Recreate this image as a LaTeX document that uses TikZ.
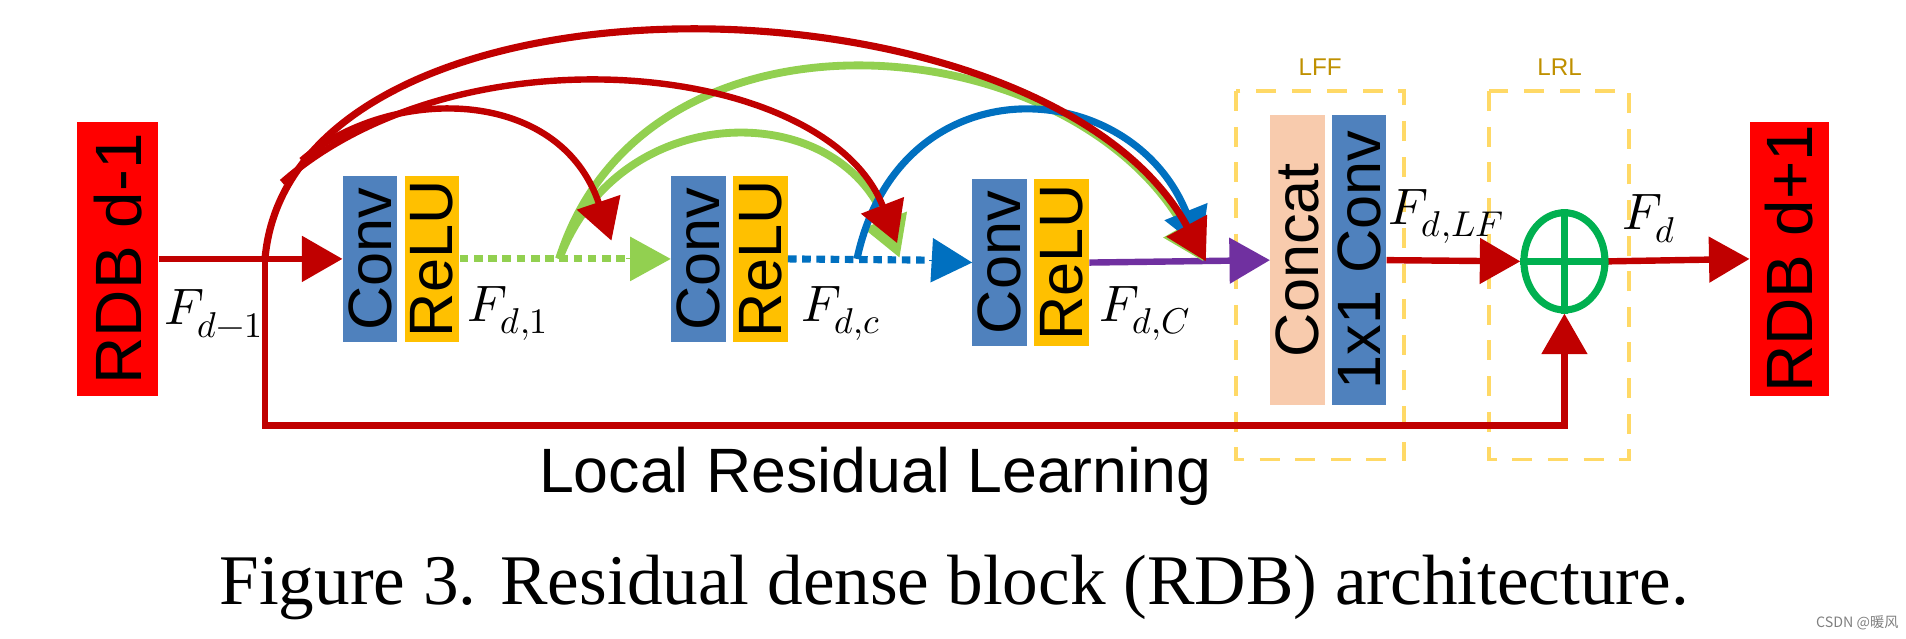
\documentclass[tikz,border=0pt]{standalone}
\usepackage{fontspec}
\usepackage{unicode-math}
\setmathfont{Latin Modern Math}
\setmainfont{Liberation Serif}
\setsansfont{Liberation Sans}
\newfontfamily\cjk{Noto Sans CJK SC}
\usetikzlibrary{arrows.meta,shapes.geometric}
\definecolor{dred}{RGB}{192,0,0}
\definecolor{bred}{RGB}{255,0,0}
\definecolor{cblue}{RGB}{79,129,189}
\definecolor{cyel}{RGB}{255,192,0}
\definecolor{cgreen}{RGB}{146,208,80}
\definecolor{cblue2}{RGB}{0,112,192}
\definecolor{cpurp}{RGB}{112,48,160}
\definecolor{cpeach}{RGB}{248,203,173}
\definecolor{cgold}{RGB}{191,144,0}
\definecolor{cdash}{RGB}{255,217,102}
\definecolor{csum}{RGB}{0,176,80}
\tikzset{
 blk/.style={draw=none,minimum height=1.35cm,inner sep=0pt,font=\sffamily\fontsize{43}{43}\selectfont,rotate=90},
 rdb/.style={fill=bred,minimum height=2.0cm,minimum width=6.75cm,inner sep=0pt,rotate=90,font=\sffamily\fontsize{46}{46}\selectfont},
 tip/.style={-{Triangle[length=1.0cm,width=1.1cm]}},
 lbl/.style={font=\fontsize{36}{36}\selectfont,inner sep=0pt},
 frame/.style={draw=cdash,line width=2.5pt,dash pattern=on 14pt off 11pt},
}
\begin{document}
\begin{tikzpicture}[x=0.03cm,y=-0.03cm]
\useasboundingbox (0,0) rectangle (1568,525);
% RDB boxes
\node[rdb] (rin) at (97,213) {RDB d-1};
\node[rdb,minimum height=1.95cm] (rout) at (1472,213) {RDB d+1};
% conv blocks
\node[blk,fill=cblue,minimum width=4.1cm] (c1) at (304.5,213) {Conv};
\node[blk,fill=cyel,minimum width=4.1cm] (r1) at (355.5,213) {ReLU};
\node[blk,fill=cblue,minimum width=4.1cm] (c2) at (574.5,213) {Conv};
\node[blk,fill=cyel,minimum width=4.1cm] (r2) at (625.5,213) {ReLU};
\node[blk,fill=cblue,minimum width=4.1cm] (c3) at (822.5,216) {Conv};
\node[blk,fill=cyel,minimum width=4.1cm] (r3) at (873.5,216) {ReLU};
\node[blk,fill=cpeach,minimum width=7.15cm] (cc) at (1067.5,214) {Concat};
\node[blk,fill=cblue,minimum width=7.15cm] (cv) at (1118,214) {1x1 Conv};
% frames
\draw[frame] (1017,75) rectangle (1155,378);
\draw[frame] (1225,75) rectangle (1340,378);
\node[font=\sffamily\fontsize{17}{17}\selectfont,text=cgold] (lff) at (1086,55) {LFF};
\node[font=\sffamily\fontsize{17}{17}\selectfont,text=cgold] (lrl) at (1283,55) {LRL};
% sum node
\node[draw=csum,line width=5pt,ellipse,minimum width=2.0cm,minimum height=2.4cm,inner sep=0pt] (sum) at (1287,215) {};
\draw[csum,line width=5pt] (sum.north) -- (sum.south) (sum.west) -- (sum.east);
% junction
\coordinate (j) at (218,213);
\coordinate (j2) at (460,213);
\coordinate (j3) at (705,213);
% main arrows
\draw[dred,line width=4.5pt,tip] (rin.south) -- (c1.north);
\draw[cgreen,line width=5pt,dash pattern=on 6pt off 4pt] (r1.south) -- (515,213);
\draw[cgreen,line width=0pt,-{Triangle[length=1.0cm,width=1.1cm]}] (515,213) -- (c2.north);
\draw[cblue2,line width=5pt,dash pattern=on 6pt off 4pt] (r2.south) -- (765,214);
\draw[cblue2,line width=0pt,-{Triangle[length=1.0cm,width=1.1cm]}] (765,214) -- (c3.north);
\draw[cpurp,line width=4.5pt,tip] (r3.south) -- (cc.north);
\draw[dred,line width=4.5pt,tip] (cv.south) -- (sum.west);
\draw[dred,line width=4.5pt,tip] (sum.east) -- (rout.north);
% residual
\draw[dred,line width=4.5pt,tip] (j) -- (218,350) -- (1287,350) -- (sum.south);
% dense arcs
\draw[cgreen,line width=5.5pt,tip] (j2) .. controls (530,-10) and (880,20) .. (990,215);
\draw[cgreen,line width=5.5pt,tip] (j2) .. controls (510,80) and (690,80) .. (740,212);
\draw[cblue2,line width=5pt,tip] (j3) .. controls (740,50) and (930,60) .. (988,205);
\draw[dred,line width=5pt,tip] (j) .. controls (240,-40) and (860,-30) .. (992,215);
\draw[dred,line width=4.5pt,tip] (232,150) .. controls (380,20) and (680,50) .. (738,200);
\draw[dred,line width=4.5pt,tip] (248,132) .. controls (320,70) and (460,70) .. (503,198);
% labels
\node[lbl] (l1) at (176,258) {$F_{d-1}$};
\node[lbl] (l2) at (418,258) {$F_{d,1}$};
\node[lbl] (l3) at (692,258) {$F_{d,c}$};
\node[lbl] (l4) at (942,258) {$F_{d,C}$};
\node[lbl] (l5) at (1190,178) {$F_{d,LF}$};
\node[lbl] (l6) at (1357,180) {$F_{d}$};
\node[font=\sffamily\fontsize{44}{44}\selectfont] (lrltext) at (720,392) {Local Residual Learning};
\node[font=\fontsize{50}{50}\selectfont] (cap) at (785,483) {Figure 3. Residual dense block (RDB) architecture.};
\node[font=\cjk\fontsize{10}{10}\selectfont,text=gray,anchor=east] (wm) at (1566,512) {CSDN @暖风};
\end{tikzpicture}
\end{document}
